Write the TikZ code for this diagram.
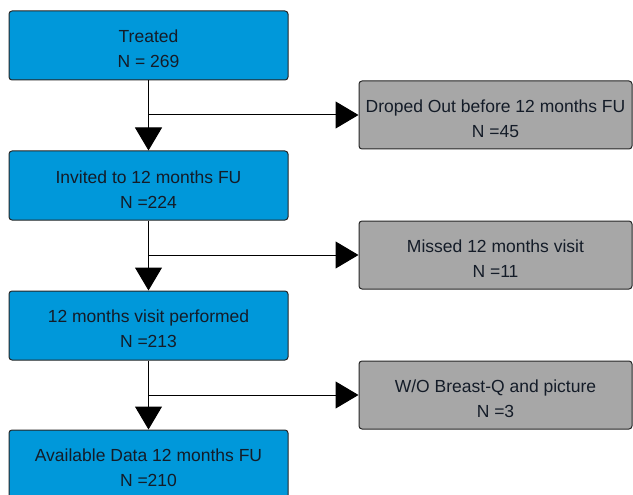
\documentclass[tikz,border=0pt]{standalone}
\usepackage{fontspec}
\setmainfont{Liberation Sans}
\usetikzlibrary{arrows.meta}
\definecolor{boxblue}{RGB}{0,152,218}
\definecolor{boxgray}{RGB}{167,167,167}
\definecolor{txt}{RGB}{20,28,40}
\tikzset{
  basebox/.style={draw=black!85, line width=1pt, rounded corners=3pt, inner sep=0pt,
    align=center, text=txt, font=\fontsize{17.5}{25}\selectfont},
  bluebox/.style={basebox, fill=boxblue, minimum width=279pt, minimum height=69pt},
  graybox/.style={basebox, fill=boxgray, minimum width=273pt, minimum height=68pt},
  conn/.style={line width=1pt, draw=black},
  arr/.style={conn, -{Triangle[length=23pt,width=27pt]}},
}
\newcommand{\topgap}{\rule{0pt}{20pt}}
\begin{document}
\begin{tikzpicture}[x=1pt,y=-1pt]
\useasboundingbox (0,0) rectangle (633,495);
\clip (0,0) rectangle (633,495);
\fill[white] (0,0) rectangle (633,495);
\node[bluebox] (t) at (148.5,45.5) {\topgap Treated\\N = 269};
\node[bluebox] (i) at (148.5,185.5) {\topgap Invited to 12 months FU\\N =224};
\node[bluebox] (v) at (148.5,325.5) {\topgap 12 months visit performed\\N =213};
\node[bluebox] (a) at (148.5,464.5) {\topgap Available Data 12 months FU\\N =210};
\node[graybox] (d) at (495.5,115) {\topgap Droped Out before 12 months FU\\N =45};
\node[graybox] (m) at (495.5,255) {\topgap Missed 12 months visit\\N =11};
\node[graybox] (w) at (495.5,395) {\topgap W/O Breast-Q and picture\\N =3};
\draw[arr] (t.south) -- (i.north);
\draw[arr] (i.south) -- (v.north);
\draw[arr] (v.south) -- (a.north);
\coordinate (b1) at (t.south |- d.west);
\coordinate (b2) at (i.south |- m.west);
\coordinate (b3) at (v.south |- w.west);
\draw[arr] (b1) -- (d.west);
\draw[arr] (b2) -- (m.west);
\draw[arr] (b3) -- (w.west);
\end{tikzpicture}
\end{document}
